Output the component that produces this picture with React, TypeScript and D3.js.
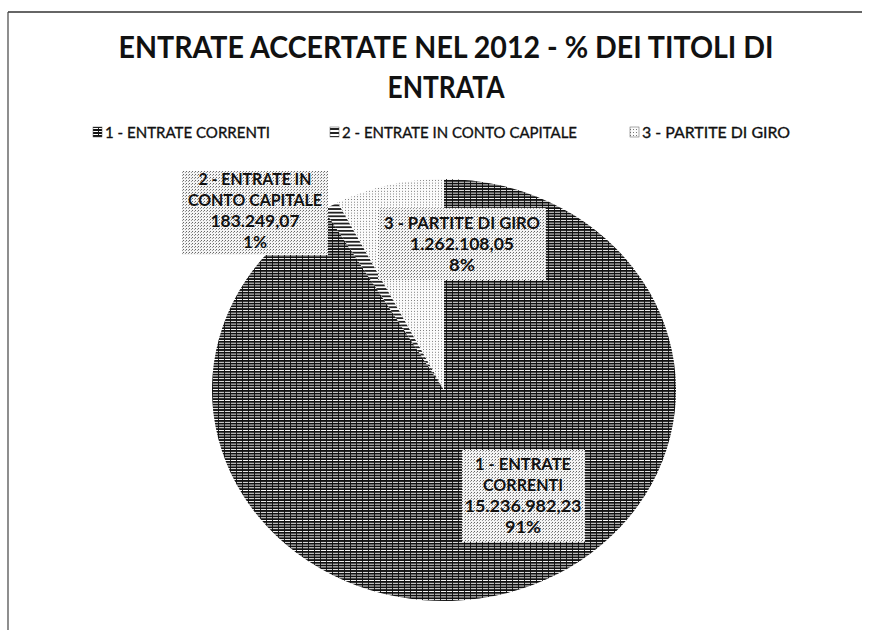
import React from "react";
import * as d3 from "d3";

const categories = ["1 - ENTRATE CORRENTI", "2 - ENTRATE IN CONTO CAPITALE", "3 - PARTITE DI GIRO"];
const values = [15236982.23, 183249.07, 1262108.05];
const valueLabels = ["15.236.982,23", "183.249,07", "1.262.108,05"];
const percentLabels = ["91%", "1%", "8%"];
const labelLines = [["1 - ENTRATE", "CORRENTI"], ["2 - ENTRATE IN", "CONTO CAPITALE"], ["3 - PARTITE DI GIRO"]];
const titleLines = ["ENTRATE ACCERTATE NEL 2012 - % DEI TITOLI DI", "ENTRATA"];

const W = 869, H = 630;
const cx = 444, cy = 390, rx = 232, ry = 211;
const FONT = "Lato, 'Open Sans', sans-serif";
const fills = ["url(#p1)", "url(#p2)", "url(#p3)"];

const labelBoxes = [
  { x: 462, y: 450, w: 123, h: 92, tx: 523, ty: 470, widths: [96, 80, 117, 36] },
  { x: 182, y: 171, w: 146, h: 84, tx: 255, ty: 185, widths: [113, 134, 89, 24] },
  { x: 378, y: 208, w: 168, h: 72, tx: 462, ty: 229, widths: [156, 104, 26] },
];
const legendItems = [
  { mx: 93, tx: 105, w: 165 },
  { mx: 330, tx: 342, w: 235 },
  { mx: 630, tx: 642, w: 148 },
];

export default function App() {
  const pie = d3.pie<number>().sort(null).value((d) => d).startAngle(0).endAngle(2 * Math.PI);
  const arcs = pie(values);
  const arc = d3.arc<d3.PieArcDatum<number>>().innerRadius(0).outerRadius(rx);

  return (
    <svg width={W} height={H} style={{ position: "absolute", left: 0, top: 0, background: "#fff" }}>
      <defs>
        <pattern id="p1" patternUnits="userSpaceOnUse" width="6" height="3">
          <rect width="6" height="3" fill="#fff" />
          <rect width="6" height="2" fill="#111" />
          <rect x="2" y="2" width="1" height="1" fill="#222" />
        </pattern>
        <pattern id="p2" patternUnits="userSpaceOnUse" width="4" height="4">
          <rect width="4" height="4" fill="#fff" />
          <rect width="4" height="2" fill="#222" />
        </pattern>
        <pattern id="p3" patternUnits="userSpaceOnUse" width="3" height="3">
          <rect width="3" height="3" fill="#fbfbfb" />
          <rect width="1" height="1" fill="#777" />
        </pattern>
        <pattern id="pl" patternUnits="userSpaceOnUse" width="3" height="3">
          <rect width="3" height="3" fill="#f4f4f4" />
          <rect width="1" height="1" fill="#666" />
          <rect x="2" y="1" width="1" height="1" fill="#999" />
        </pattern>
      </defs>
      <line x1={8} y1={12} x2={862} y2={12} stroke="#333" strokeWidth={1.5} />
      <line x1={8} y1={12} x2={8} y2={630} stroke="#444" strokeWidth={1.2} />

      {titleLines.map((t, i) => (
        <text key={i} x={446} y={58 + i * 40} textAnchor="middle" fontFamily={FONT} fontWeight="bold"
          fontSize={30} fill="#111" textLength={i === 0 ? 655 : 117} lengthAdjust="spacingAndGlyphs">{t}</text>
      ))}

      {categories.map((c, i) => (
        <g key={c}>
          <rect x={legendItems[i].mx} y={127} width={9} height={10} fill={fills[i]} stroke="#555" strokeWidth={0.5} />
          <text x={legendItems[i].tx} y={138} fontFamily={FONT} fontSize={16} fill="#111" stroke="#111" strokeWidth={0.35}
            textLength={legendItems[i].w} lengthAdjust="spacingAndGlyphs">{c}</text>
        </g>
      ))}

      <g transform={`translate(${cx},${cy}) scale(1,${ry / rx})`}>
        {arcs.map((a, i) => (
          <path key={i} d={arc(a) || ""} fill={fills[i]} />
        ))}
      </g>

      {labelBoxes.map((b, i) => {
        const lines = [...labelLines[i], valueLabels[i], percentLabels[i]];
        return (
          <g key={i}>
            <rect x={b.x} y={b.y} width={b.w} height={b.h} fill="url(#pl)" />
            {lines.map((l, j) => (
              <text key={j} x={b.tx} y={b.ty + j * 21} textAnchor="middle" fontFamily={FONT}
                fontWeight="bold" fontSize={17} fill="#111" textLength={b.widths[j]}
                lengthAdjust="spacingAndGlyphs">{l}</text>
            ))}
          </g>
        );
      })}
    </svg>
  );
}
